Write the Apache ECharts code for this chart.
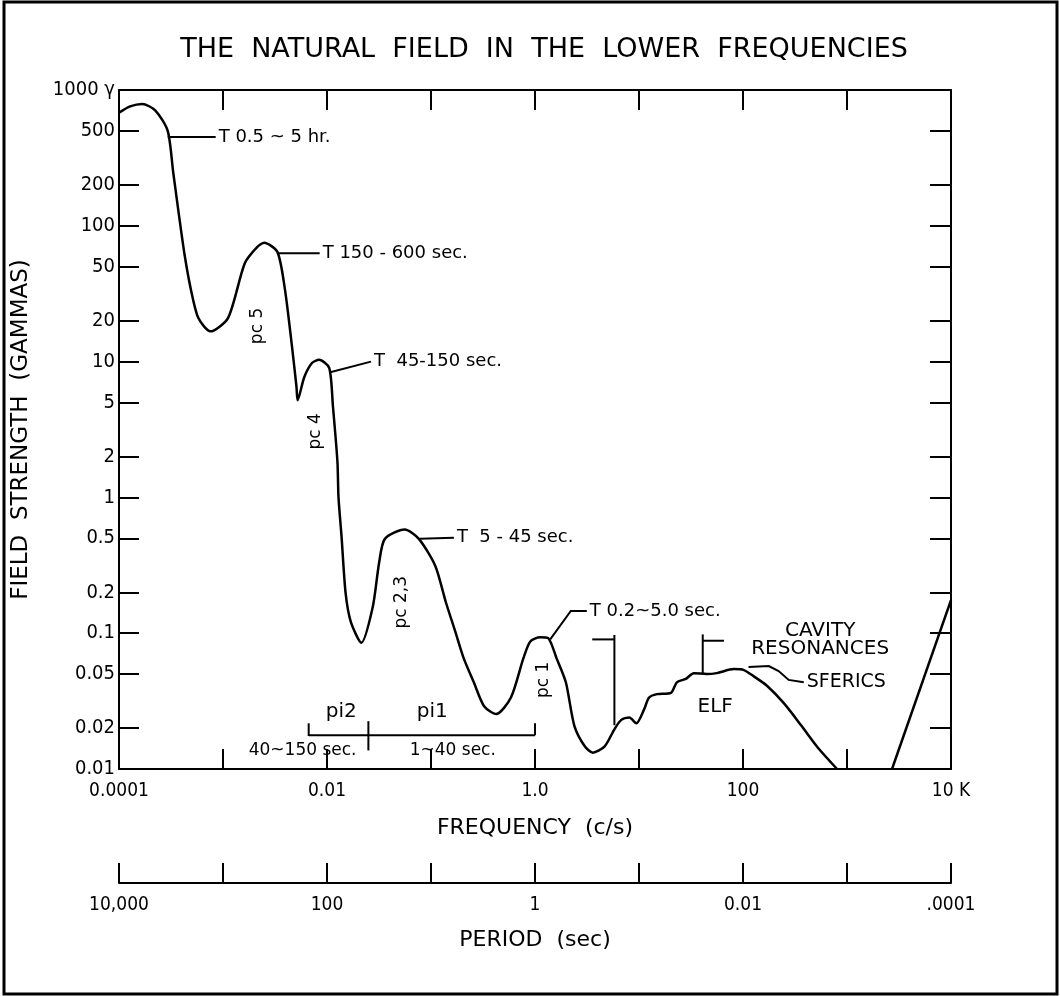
<!DOCTYPE html>
<html>
<head>
<meta charset="utf-8">
<title>The natural field in the lower frequencies</title>
<script src="https://cdn.jsdelivr.net/npm/echarts@6/dist/echarts.min.js"></script>
<style>
  html, body { margin: 0; padding: 0; background: #fff; }
  #chart { width: 1060px; height: 996px; }
</style>
</head>
<body>
<div id="chart"></div>
<script>
// Natural magnetic field spectrum: frequency in c/s, field strength in gammas
const spectrumFreq = [
  1.0e-4, 1.28e-4, 1.67e-4, 2.24e-4, 2.94e-4, 3.32e-4, 3.76e-4, 4.26e-4, 4.91e-4, 5.78e-4,
  7.57e-4, 1.12e-3, 1.62e-3, 2.14e-3, 2.49e-3, 3.34e-3, 3.94e-3, 4.59e-3, 5.09e-3, 5.22e-3,
  6.05e-3, 7.2e-3, 8.4e-3, 1.05e-2, 1.14e-2, 1.26e-2, 1.29e-2, 1.38e-2, 1.51e-2, 1.70e-2,
  2.14e-2, 2.75e-2, 3.17e-2, 3.6e-2, 5.58e-2, 7.64e-2, 0.110, 0.139, 0.171, 0.206,
  0.258, 0.324, 0.424, 0.587, 0.774, 0.901, 1.12, 1.34, 1.61, 1.98,
  2.39, 3.01, 3.60, 4.68, 5.80, 6.76, 8.07, 9.42, 11.2, 12.5,
  14.9, 20.3, 23.1, 28.2, 33.6, 44.8, 56, 81.5, 102, 127,
  170, 248, 365, 523, 802
];
const spectrumField = [
  680, 758, 790, 706, 500, 248, 122, 62, 34, 21,
  16.7, 21, 53, 70, 75, 64, 34, 13.2, 6.5, 5.2,
  7.7, 9.8, 10.3, 9.0, 4.7, 1.83, 1.0, 0.515, 0.197, 0.12,
  0.085, 0.155, 0.33, 0.495, 0.58, 0.495, 0.313, 0.169, 0.103, 0.0655,
  0.0435, 0.029, 0.0254, 0.0336, 0.0655, 0.087, 0.0935, 0.092, 0.0655, 0.0435,
  0.0208, 0.0147, 0.0132, 0.0147, 0.0196, 0.023, 0.0239, 0.0217, 0.0275, 0.0336,
  0.0356, 0.0364, 0.0435, 0.0461, 0.0508, 0.050, 0.0508, 0.0544, 0.0535, 0.0481,
  0.041, 0.0304, 0.0208, 0.0144, 0.01
];
// Rise of the spectrum again toward 10 kc/s
const highBandFreq = [2710, 10000];
const highBandField = [0.01, 0.175];

// Axis ticks and their labels
const fieldTicks = [0.01, 0.02, 0.05, 0.1, 0.2, 0.5, 1, 2, 5, 10, 20, 50, 100, 200, 500, 1000];
const fieldTickLabels = ['0.01', '0.02', '0.05', '0.1', '0.2', '0.5', '1', '2', '5', '10', '20', '50', '100', '200', '500', '1000 γ'];
const decadeTicks = [1e-4, 1e-3, 1e-2, 1e-1, 1, 10, 100, 1e3, 1e4];
const freqLabelTicks = [1e-4, 1e-2, 1, 100, 1e4];
const freqTickLabels = ['0.0001', '0.01', '1.0', '100', '10 K'];
const periodLabelTicks = [1e4, 100, 1, 0.01, 1e-4];
const periodTickLabels = ['10,000', '100', '1', '0.01', '.0001'];

// Period bands of the pulsations, with leader lines out to their labels
const leaders = [
  { text: 'T 0.5 ~ 5 hr.',     path: [[2.94e-4, 450], [8.5e-4, 450]] },
  { text: 'T 150 - 600 sec.',  path: [[3.34e-3, 62.7], [8.5e-3, 62.7]] },
  { text: 'T  45-150 sec.',    path: [[0.0105, 8.3], [0.0265, 10]] },
  { text: 'T  5 - 45 sec.',    path: [[0.078, 0.495], [0.166, 0.505]] },
  { text: 'T 0.2~5.0 sec.',    path: [[1.40, 0.09], [2.21, 0.146], [3.15, 0.146]] },
  { text: 'SFERICS',           path: [[113, 0.0564], [177, 0.0573], [220, 0.0526], [275, 0.0453], [384, 0.0435]] }
];
// Bracket marks: irregular pulsation bands and the cavity resonance range
const brackets = [
  [[1 / 150, 0.0177], [1, 0.0177]],
  [[1 / 150, 0.0217], [1 / 150, 0.0175]],
  [[1 / 40, 0.0225], [1 / 40, 0.0137]],
  [[1, 0.0217], [1, 0.0177]],
  [[3.55, 0.090], [5.8, 0.090]],
  [[5.8, 0.097], [5.8, 0.021]],
  [[41, 0.098], [41, 0.051]],
  [[41, 0.088], [65.6, 0.088]]
];
// Centred names of the spectral features
const featureNames = [
  { text: 'pc 5',   at: [2.15e-3, 18.3],  rotate: 90 },
  { text: 'pc 4',   at: [7.8e-3, 3.06],   rotate: 90 },
  { text: 'pc 2,3', at: [0.0527, 0.169],  rotate: 90 },
  { text: 'pc 1',   at: [1.22, 0.0453],   rotate: 90 },
  { text: 'pi2',    at: [0.0137, 0.0264], rotate: 0 },
  { text: 'pi1',    at: [0.103, 0.0264],  rotate: 0 },
  { text: '40~150 sec.', at: [5.83e-3, 0.0137], rotate: 0, small: true },
  { text: '1~40 sec.',   at: [0.162, 0.0137],   rotate: 0, small: true },
  { text: 'ELF',    at: [54, 0.0286],     rotate: 0 },
  { text: 'CAVITY\nRESONANCES', at: [552, 0.089], rotate: 0 }
];

const LETTER_FONT = "'DejaVu Sans', 'Liberation Sans', sans-serif";
const NUMBER_FONT = "'Liberation Sans Narrow', 'DejaVu Sans Condensed', 'Liberation Sans', sans-serif";
const INK = '#000';

function labelFor(ticks, labels) {
  return function (v) {
    const e = Math.log10(v);
    for (let i = 0; i < ticks.length; i++) {
      if (Math.abs(Math.log10(ticks[i]) - e) < 1e-6) return labels[i];
    }
    return '';
  };
}

const axisLine = { show: true, onZero: false, lineStyle: { color: INK, width: 2 } };
const tickStyle = { color: INK, width: 2 };

const chart = echarts.init(document.getElementById('chart'), null, { renderer: 'canvas' });

chart.setOption({
  animation: false,
  backgroundColor: '#fff',
  grid: { left: 119, right: 109, top: 90, bottom: 227, containLabel: false },
  xAxis: [
    {
      type: 'log', logBase: 10, min: 1e-4, max: 1e4, position: 'bottom',
      axisLine: axisLine,
      axisTick: { show: true, inside: true, length: 20, lineStyle: tickStyle, customValues: decadeTicks },
      axisLabel: {
        customValues: freqLabelTicks, formatter: labelFor(freqLabelTicks, freqTickLabels),
        color: INK, fontFamily: NUMBER_FONT, fontSize: 19, margin: 13
      },
      splitLine: { show: false },
      name: 'FREQUENCY  (c/s)', nameLocation: 'middle', nameGap: 48,
      nameTextStyle: { color: INK, fontFamily: LETTER_FONT, fontSize: 22 }
    },
    {
      type: 'log', logBase: 10, min: 1e-4, max: 1e4, position: 'top',
      axisLine: axisLine,
      axisTick: { show: true, inside: true, length: 20, lineStyle: tickStyle, customValues: decadeTicks },
      axisLabel: { show: false },
      splitLine: { show: false }
    },
    {
      type: 'log', logBase: 10, min: 1e-4, max: 1e4, inverse: true, position: 'bottom', offset: 114,
      axisLine: axisLine,
      axisTick: { show: true, inside: true, length: 20, lineStyle: tickStyle, customValues: decadeTicks },
      axisLabel: {
        customValues: periodLabelTicks, formatter: labelFor(periodLabelTicks, periodTickLabels),
        color: INK, fontFamily: NUMBER_FONT, fontSize: 19, margin: 13
      },
      splitLine: { show: false },
      name: 'PERIOD  (sec)', nameLocation: 'middle', nameGap: 46,
      nameTextStyle: { color: INK, fontFamily: LETTER_FONT, fontSize: 22 }
    }
  ],
  yAxis: [
    {
      type: 'log', logBase: 10, min: 0.01, max: 1000, position: 'left',
      axisLine: axisLine,
      axisTick: { show: true, inside: true, length: 20, lineStyle: tickStyle, customValues: fieldTicks },
      axisLabel: {
        customValues: fieldTicks, formatter: labelFor(fieldTicks, fieldTickLabels),
        color: INK, fontFamily: NUMBER_FONT, fontSize: 20, margin: 4
      },
      splitLine: { show: false },
      name: 'FIELD  STRENGTH  (GAMMAS)', nameLocation: 'middle', nameGap: 86,
      nameTextStyle: { color: INK, fontFamily: LETTER_FONT, fontSize: 23 }
    },
    {
      type: 'log', logBase: 10, min: 0.01, max: 1000, position: 'right',
      axisLine: axisLine,
      axisTick: { show: true, inside: true, length: 21, lineStyle: tickStyle, customValues: fieldTicks },
      axisLabel: { show: false },
      splitLine: { show: false }
    }
  ],
  series: [
    {
      name: 'Field strength', type: 'line', xAxisIndex: 0, yAxisIndex: 0,
      data: spectrumFreq.map((f, i) => [f, spectrumField[i]]),
      showSymbol: false, smooth: 0.25, silent: true,
      lineStyle: { color: INK, width: 2.5 }
    },
    {
      name: 'Field strength, upper band', type: 'line', xAxisIndex: 0, yAxisIndex: 0,
      data: highBandFreq.map((f, i) => [f, highBandField[i]]),
      showSymbol: false, silent: true,
      lineStyle: { color: INK, width: 2.5 }
    },
    {
      name: 'Leaders', type: 'lines', coordinateSystem: 'cartesian2d', polyline: true,
      xAxisIndex: 0, yAxisIndex: 0, silent: true,
      lineStyle: { color: INK, width: 2, opacity: 1 },
      data: leaders.map(l => ({ coords: l.path }))
    },
    {
      name: 'Brackets', type: 'lines', coordinateSystem: 'cartesian2d', polyline: true,
      xAxisIndex: 0, yAxisIndex: 0, silent: true,
      lineStyle: { color: INK, width: 2, opacity: 1 },
      data: brackets.map(b => ({ coords: b }))
    },
    {
      name: 'Leader labels', type: 'scatter', xAxisIndex: 0, yAxisIndex: 0,
      symbolSize: 0, silent: true,
      data: leaders.map(l => ({
        value: l.path[l.path.length - 1],
        label: {
          show: true, position: 'right', distance: 3, formatter: l.text,
          color: INK, opacity: 1, textBorderWidth: 0,
          fontFamily: LETTER_FONT, fontSize: l.text === 'SFERICS' ? 19 : 18
        }
      }))
    },
    {
      name: 'Feature names', type: 'scatter', xAxisIndex: 0, yAxisIndex: 0,
      symbolSize: 0, silent: true,
      data: featureNames.map(n => ({
        value: n.at,
        label: {
          show: true, position: 'inside', formatter: n.text, rotate: n.rotate,
          align: 'center', verticalAlign: 'middle',
          color: INK, opacity: 1, textBorderWidth: 0, fontFamily: LETTER_FONT,
          fontSize: n.rotate ? 17 : (n.small ? 17 : 20),
          lineHeight: 18
        }
      }))
    }
  ],
  graphic: [
    {
      type: 'rect', silent: true,
      shape: { x: 4, y: 2, width: 1053, height: 992 },
      style: { fill: 'none', stroke: INK, lineWidth: 3 }
    },
    {
      type: 'text', silent: true, x: 544, y: 50,
      style: {
        text: 'THE  NATURAL  FIELD  IN  THE  LOWER  FREQUENCIES',
        font: "27px 'DejaVu Sans', 'Liberation Sans', sans-serif",
        fill: INK, textAlign: 'center', textVerticalAlign: 'middle'
      }
    }
  ]
});
</script>
</body>
</html>
